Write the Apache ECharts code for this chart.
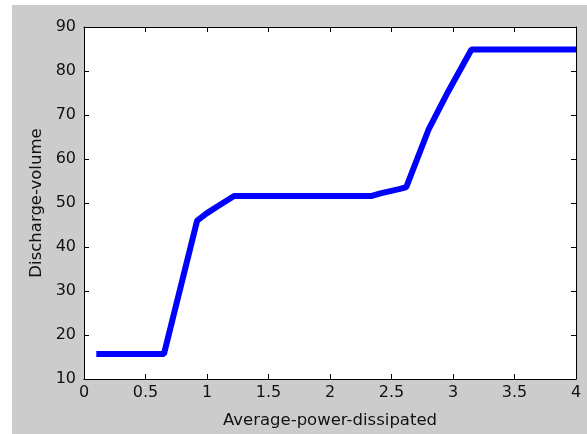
<!DOCTYPE html>
<html>
<head>
<meta charset="utf-8">
<script src="https://cdn.jsdelivr.net/npm/echarts@6/dist/echarts.min.js"></script>
<style>
  html, body { margin: 0; padding: 0; background: #ffffff; }
  #wrap { position: relative; width: 587px; height: 434px; overflow: hidden; }
  #bg { position: absolute; left: 12px; top: 5px; right: 0; bottom: 0; background: #cccccc; }
  #chart { position: absolute; left: 0; top: 0; width: 587px; height: 434px; }
</style>
</head>
<body>
<div id="wrap"><div id="bg"></div><div id="chart"></div></div>
<script>
const xValues = [0.1, 0.65, 0.92, 1.0, 1.1, 1.22, 2.34, 2.41, 2.57, 2.62, 2.80, 2.96, 3.15, 4.0];
const yValues = [15.7, 15.7, 46.0, 47.7, 49.5, 51.6, 51.6, 52.2, 53.2, 53.6, 66.6, 75.3, 84.9, 84.9];
const xTicks = [0, 0.5, 1, 1.5, 2, 2.5, 3, 3.5, 4];
const yTicks = [10, 20, 30, 40, 50, 60, 70, 80, 90];
const xName = 'Average-power-dissipated';
const yName = 'Discharge-volume';

const points = xValues.map((x, i) => [x, yValues[i]]);
const font = 'DejaVu Sans';
const axisLine = { show: true, onZero: false, lineStyle: { color: '#000', width: 1 } };
const tick = { show: true, inside: true, length: 5, lineStyle: { color: '#000', width: 1 } };

const chart = echarts.init(document.getElementById('chart'), null, { renderer: 'canvas' });
chart.setOption({
  animation: false,
  backgroundColor: 'transparent',
  grid: { left: 84, top: 27, right: 11, bottom: 55, show: true, backgroundColor: '#ffffff', borderWidth: 0 },
  xAxis: [{
    type: 'value', min: xTicks[0], max: xTicks[xTicks.length - 1], interval: 0.5,
    position: 'bottom',
    name: xName, nameLocation: 'middle', nameGap: 33,
    nameTextStyle: { fontFamily: font, fontSize: 16.5, color: '#111' },
    axisLine: axisLine, axisTick: tick, splitLine: { show: false },
    axisLabel: { fontFamily: font, fontSize: 16, color: '#111', margin: 6, formatter: v => String(v) }
  }, {
    type: 'value', min: xTicks[0], max: xTicks[xTicks.length - 1], interval: 0.5,
    position: 'top',
    axisLine: axisLine, axisTick: tick, splitLine: { show: false }, axisLabel: { show: false }
  }],
  yAxis: [{
    type: 'value', min: yTicks[0], max: yTicks[yTicks.length - 1], interval: 10,
    position: 'left',
    name: yName, nameLocation: 'middle', nameGap: 38,
    nameTextStyle: { fontFamily: font, fontSize: 16.5, color: '#111' },
    axisLine: axisLine, axisTick: tick, splitLine: { show: false },
    axisLabel: { fontFamily: font, fontSize: 16, color: '#111', margin: 8 }
  }, {
    type: 'value', min: yTicks[0], max: yTicks[yTicks.length - 1], interval: 10,
    position: 'right',
    axisLine: axisLine, axisTick: tick, splitLine: { show: false }, axisLabel: { show: false }
  }],
  series: [{
    type: 'line', xAxisIndex: 0, yAxisIndex: 0,
    data: points, showSymbol: false, symbol: 'none',
    lineStyle: { color: '#0000ff', width: 6 },
    clip: false
  }]
});
</script>
</body>
</html>
